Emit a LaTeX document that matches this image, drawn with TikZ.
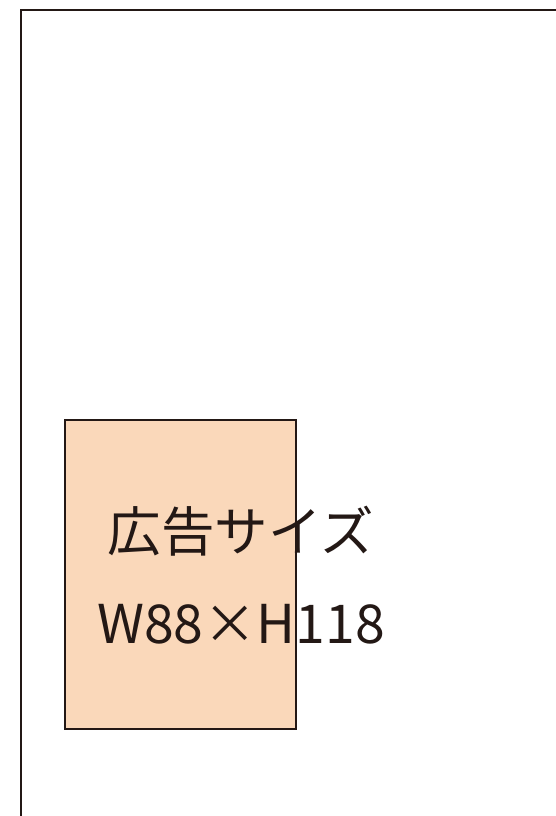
\documentclass[tikz,border=0pt]{standalone}
\usepackage{fontspec}
\newfontfamily\cjk{Noto Sans CJK JP}
\definecolor{inkblack}{RGB}{35,24,21}
\definecolor{adpeach}{RGB}{250,216,186}
\tikzset{
  adbox/.style={draw=inkblack,fill=adpeach,line width=2pt,minimum width=231pt,minimum height=309pt,inner sep=0pt},
  adtext/.style={text=inkblack,inner sep=0pt,font=\cjk\fontsize{53.5pt}{60pt}\selectfont}
}
\begin{document}
\begin{tikzpicture}[x=1pt,y=-1pt]
\useasboundingbox (0,0) rectangle (555,816);
\draw[line width=2.5pt,draw=inkblack](557,10)--(21,10)--(21,818);
\node[adbox] (ad) at (180.5,574.5) {};
\node[adtext] (size) at (240.5,531) {広告サイズ};
\node[adtext] (dim) at (241,624) {W88×H118};
\end{tikzpicture}
\end{document}
